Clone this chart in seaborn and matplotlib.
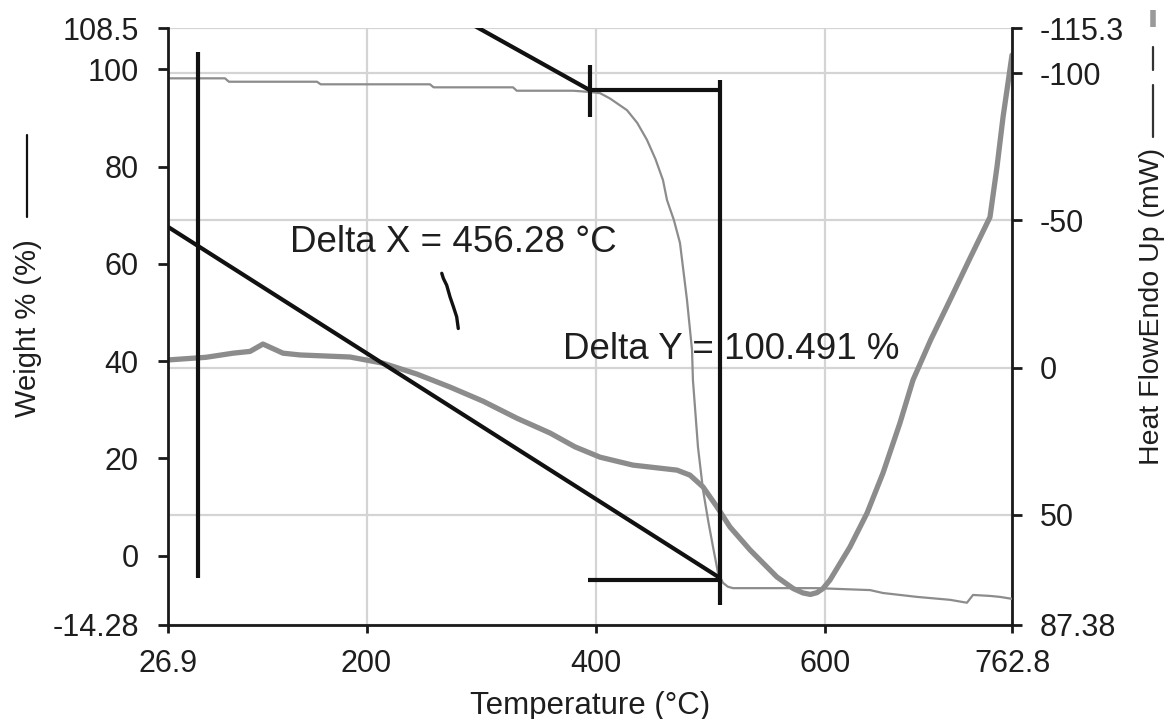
import matplotlib
matplotlib.use("Agg")
import matplotlib.pyplot as plt
import seaborn as sns
import pandas as pd
from matplotlib.lines import Line2D

# ---------------- data ----------------
x_ticks = [26.9, 200, 400, 600, 762.8]
x_tick_labels = ["26.9", "200", "400", "600", "762.8"]
w_ticks = [-14.28, 0, 20, 40, 60, 80, 100, 108.5]
w_tick_labels = ["-14.28", "0", "20", "40", "60", "80", "100", "108.5"]
h_ticks = [-115.3, -100, -50, 0, 50, 87.38]
h_tick_labels = ["-115.3", "-100", "-50", "0", "50", "87.38"]

temp_w = [26.9, 76.6, 80.0, 156.8, 160.0, 255.3, 258.5, 327.7, 331.0, 380.0,
          394.8, 403.6, 412.3, 427.1, 436.0, 444.5, 452.0, 458.5, 462.0, 468.0,
          473.3, 479.4, 483.8, 484.6, 489.0, 493.4, 498.0, 502.1, 506.5, 510.8,
          515.0, 519.5, 592.7, 639.0, 650.3, 680.0, 708.7, 723.5, 728.8, 743.6,
          752.3, 762.8]
weight = [98.15, 98.15, 97.45, 97.45, 96.92, 96.92, 96.30, 96.30, 95.60, 95.60,
          95.35, 95.1, 94.0, 91.6, 89.0, 85.5, 81.5, 77.2, 73.1, 69.0,
          64.3, 52.6, 42.3, 36.1, 22.3, 13.5, 7.0, 1.8, -3.6, -5.6,
          -6.4, -6.7, -6.7, -7.1, -7.7, -8.5, -9.1, -9.7, -8.1, -8.3,
          -8.5, -8.9]

temp_h = [26.9, 60.0, 83.6, 98.4, 109.7, 127.2, 142.0, 185.6, 214.4, 244.0,
          272.8, 301.6, 331.2, 360.0, 381.8, 403.6, 432.3, 470.7, 482.0, 493.4,
          505.6, 516.9, 534.4, 557.9, 572.0, 580.6, 587.0, 592.7, 598.0, 604.1,
          621.5, 636.4, 650.3, 665.1, 676.5, 692.0, 708.7, 726.0, 743.6, 749.7,
          755.0, 759.3, 762.8]
heat_flow = [-2.6, -3.5, -4.9, -5.5, -8.0, -4.9, -4.3, -3.6, -1.5, 2.2,
             6.6, 11.4, 17.2, 22.2, 26.9, 30.4, 33.1, 34.8, 36.5, 40.5,
             47.3, 54.1, 61.9, 71.1, 75.0, 76.5, 77.0, 76.4, 75.0, 72.1,
             60.9, 49.4, 35.8, 18.8, 4.2, -9.5, -22.9, -37.0, -51.1, -68.1,
             -85.1, -96.6, -106.1]

# annotation construction lines (temperature, weight %)
onset_x = [53.1, 53.1]
onset_y = [103.6, -4.6]
base_tan_x = [26.9, 506.8]
base_tan_y = [67.6, -4.4]
upper_tan_x = [290.0, 394.8]
upper_tan_y = [109.5, 95.7]
mark_x = [394.8, 394.8]
mark_y = [100.9, 90.2]
top_bar_x = [394.8, 508.2]
top_bar_y = [95.75, 95.75]
right_bar_x = [508.2, 508.2]
right_bar_y = [97.8, -10.2]
bottom_bar_x = [393.1, 508.2]
bottom_bar_y = [-5.0, -5.0]
squiggle_x = [265.6, 267.0, 269.9, 272.8, 275.7, 278.6, 280.0]
squiggle_y = [58.05, 57.0, 55.6, 53.2, 51.2, 49.1, 46.7]

delta_x_text = "Delta X = 456.28 °C"
delta_x_pos = (133.3, 64.3)
delta_y_text = "Delta Y = 100.491 %"
delta_y_pos = (371.3, 42.3)

# ---------------- style ----------------
sns.set_style("white")
plt.rcParams["font.family"] = ["Liberation Sans", "DejaVu Sans"]
TXT = "#1e1e1e"
GRID = "#d4d4d4"
CURVE = "#8c8c8c"
TICK_FS = 22
ANN_FS = 26.5

fig = plt.figure(figsize=(11.76, 7.19), dpi=100)
fig.patch.set_facecolor("white")
ax = fig.add_axes([168 / 1176, 1 - 625 / 719, 844 / 1176, 597 / 719])
ax2 = ax.twinx()

# heat flow on right axis (drawn behind)
df_h = pd.DataFrame({"T": temp_h, "H": heat_flow})
sns.lineplot(data=df_h, x="T", y="H", ax=ax2, color=CURVE, lw=3.8,
             sort=False, estimator=None, legend=False)
ax2.set_ylim(87.38, -115.3)
ax2.set_yticks(h_ticks)
ax2.set_yticklabels(h_tick_labels)
ax2.xaxis.set_visible(True)
ax2.set_xticks(x_ticks)
ax2.set_xlabel("")
ax2.tick_params(axis="x", bottom=False, top=False, labelbottom=False, labeltop=False)
ax2.grid(True, color=GRID, lw=1.6)
ax2.set_axisbelow(True)

# weight on left axis (drawn on top)
ax.set_zorder(ax2.get_zorder() + 1)
ax.patch.set_visible(False)
df_w = pd.DataFrame({"T": temp_w, "W": weight})
sns.lineplot(data=df_w, x="T", y="W", ax=ax, color=CURVE, lw=1.6,
             sort=False, estimator=None, legend=False)

blk = dict(color="#111111", lw=3.0, solid_capstyle="butt")
for xs, ys in [(onset_x, onset_y), (base_tan_x, base_tan_y), (upper_tan_x, upper_tan_y),
               (mark_x, mark_y), (top_bar_x, top_bar_y), (right_bar_x, right_bar_y),
               (bottom_bar_x, bottom_bar_y)]:
    sns.lineplot(x=xs, y=ys, ax=ax, sort=False, estimator=None, legend=False, **blk)
sns.lineplot(x=squiggle_x, y=squiggle_y, ax=ax, sort=False, estimator=None,
             legend=False, color="#111111", lw=2.4)

ax.text(delta_x_pos[0], delta_x_pos[1], delta_x_text, fontsize=ANN_FS, color=TXT,
        ha="left", va="center")
ax.text(delta_y_pos[0], delta_y_pos[1], delta_y_text, fontsize=ANN_FS, color=TXT,
        ha="left", va="center")

ax.set_xlim(26.9, 762.8)
ax.set_ylim(-14.28, 108.5)
ax.set_xticks(x_ticks)
ax.set_xticklabels(x_tick_labels)
ax.set_yticks(w_ticks)
ax.set_yticklabels(w_tick_labels)
ax.grid(False)

ax.set_xlabel("Temperature (°C)", fontsize=22.5, color=TXT, labelpad=9)
ax.set_ylabel("Weight % (%)", fontsize=21, color=TXT)
ax.yaxis.set_label_coords(-0.149, 0.4966)
ax2.set_ylabel("Heat FlowEndo Up (mW)", fontsize=20.5, color=TXT)
ax2.yaxis.set_label_coords(1.151, 0.533)

for a in (ax, ax2):
    for s in a.spines.values():
        s.set_visible(False)
ax.spines["left"].set_visible(True)
ax.spines["bottom"].set_visible(True)
ax2.spines["right"].set_visible(True)
for s in (ax.spines["left"], ax.spines["bottom"], ax2.spines["right"]):
    s.set_color("#1a1a1a")
    s.set_linewidth(2.0)

ax.tick_params(axis="y", direction="out", length=7, width=2, color="#1a1a1a",
               labelsize=TICK_FS, labelcolor=TXT, pad=14, left=True)
ax.tick_params(axis="x", direction="out", length=6, width=2, color="#1a1a1a",
               labelsize=TICK_FS, labelcolor=TXT, pad=11, bottom=True)
ax2.tick_params(axis="y", direction="out", length=7, width=2, color="#1a1a1a",
                labelsize=TICK_FS, labelcolor=TXT, pad=13, right=True)

# label keys next to the axis titles
ax.add_line(Line2D([-0.167, -0.167], [0.683, 0.821], transform=ax.transAxes,
                   color="#111111", lw=1.6, clip_on=False))
ax2.add_line(Line2D([1.167, 1.167], [0.817, 0.9045], transform=ax2.transAxes,
                    color="#333333", lw=1.6, clip_on=False))
ax2.add_line(Line2D([1.167, 1.167], [0.9296, 0.968], transform=ax2.transAxes,
                    color="#333333", lw=1.6, clip_on=False))
ax2.add_line(Line2D([1.167, 1.167], [1.0017, 1.030], transform=ax2.transAxes,
                    color="#9a9a9a", lw=4.0, clip_on=False, solid_capstyle="butt"))

fig.savefig("out.png", dpi=100, facecolor="white")
